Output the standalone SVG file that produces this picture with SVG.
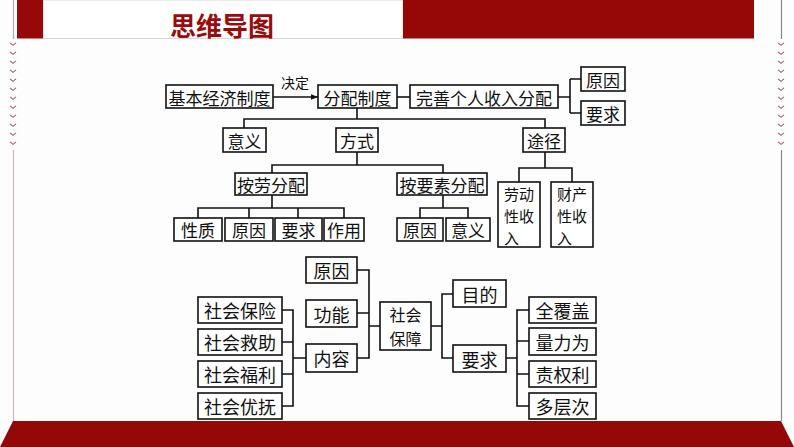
<svg xmlns="http://www.w3.org/2000/svg" width="794" height="447" viewBox="0 0 794 447">
<style>
.b{fill:#fff;stroke:#111;stroke-width:1.6}
.t{font-family:"Noto Sans CJK SC","Noto Sans",sans-serif;font-size:17px;fill:#111;text-anchor:middle;dominant-baseline:central}
.t2{font-size:18px}
.v{font-size:15px;text-anchor:start}
.c{fill:none;stroke:#111;stroke-width:1.6}
.chev{fill:none;stroke:#a0606a;stroke-width:1.1}
</style>
<defs>
<marker id="ar" viewBox="0 0 10 10" refX="10" refY="5" markerWidth="7" markerHeight="7" markerUnits="userSpaceOnUse" orient="auto">
<path d="M0,1 L10,5 L0,9 Z" fill="#111"/>
</marker>
<path id="cv" d="M-3,-1.2 L0,1.3 L3,-1.2" class="chev"/>
</defs>
<rect width="794" height="447" fill="#fdfdfd"/>
<g id="frame">
<rect x="43" y="0" width="360" height="38.5" fill="#fff" stroke="#d8d8d8" stroke-width="1"/>
<rect x="17" y="0" width="26" height="38.5" fill="#970808"/>
<rect x="403" y="0" width="351" height="38.5" fill="#960808"/>
<line x1="13.5" y1="0" x2="13.5" y2="39" stroke="#b8a8a8" stroke-width="1.2"/>
<line x1="781.5" y1="0" x2="781.5" y2="39" stroke="#888" stroke-width="1.2"/>
<g>
<use href="#cv" x="13" y="44"/><use href="#cv" x="13" y="53"/><use href="#cv" x="13" y="62"/><use href="#cv" x="13" y="71"/><use href="#cv" x="13" y="80"/><use href="#cv" x="13" y="89"/><use href="#cv" x="13" y="98"/><use href="#cv" x="13" y="107"/><use href="#cv" x="13" y="116"/><use href="#cv" x="13" y="125"/><use href="#cv" x="13" y="134"/><use href="#cv" x="13" y="143"/>
<use href="#cv" x="781" y="44"/><use href="#cv" x="781" y="53"/><use href="#cv" x="781" y="62"/><use href="#cv" x="781" y="71"/><use href="#cv" x="781" y="80"/><use href="#cv" x="781" y="89"/><use href="#cv" x="781" y="98"/><use href="#cv" x="781" y="107"/><use href="#cv" x="781" y="116"/><use href="#cv" x="781" y="125"/><use href="#cv" x="781" y="134"/><use href="#cv" x="781" y="143"/>
</g>
<line x1="13.5" y1="150" x2="13.5" y2="421" stroke="#c8b8b8" stroke-width="1.2"/>
<line x1="781.5" y1="150" x2="781.5" y2="421" stroke="#888" stroke-width="1.2"/>
<polygon points="13,421 781,421 794,447 0,447" fill="#950808"/>
<text x="222" y="24" font-family="'Noto Sans CJK SC',sans-serif" font-size="26" font-weight="bold" fill="#9b0b0b" text-anchor="middle" dominant-baseline="central">思维导图</text>
</g>
<g id="connectors">
<line x1="273" y1="97" x2="318" y2="97" class="c" marker-end="url(#ar)"/>
<text x="295" y="82" class="t" style="font-size:14px">决定</text>
<line x1="397" y1="97" x2="410" y2="97" class="c"/>
<path d="M558,97 H570 M570,79 V113 M570,79 H581 M570,113 H581" class="c"/>
<path d="M357,108 V119 M244,128 V119 H545 V128" class="c"/>
<path d="M357,152 V165 M272,173 V165 H443 V173" class="c"/>
<path d="M272,195 V208 M198,218 V208 H344 V218 M249,208 V218 M298,208 V218" class="c"/>
<path d="M443,195 V208 M420,218 V208 H468 V218" class="c"/>
<path d="M545,152 V168 M519,182 V168 H572 V182" class="c"/>
<path d="M357,270 H369 V358 H357 M357,313 H369 M369,326 H380" class="c"/>
<path d="M431,326 H442 M453,294 H442 V358 H453" class="c"/>
<path d="M506,358 H517 M529,310 H517 V406 H529 M517,341 H529 M517,374 H529" class="c"/>
<path d="M282,310 H293 V406 H282 M282,342 H293 M282,374 H293 M293,358 H306" class="c"/>
</g>
<g id="n1"><rect x="166" y="85" width="107" height="23" class="b"/><text x="219.5" y="97" class="t">基本经济制度</text></g>
<g id="n2"><rect x="318" y="85" width="79" height="23" class="b"/><text x="357.5" y="97" class="t">分配制度</text></g>
<g id="n3"><rect x="410" y="85" width="148" height="23" class="b"/><text x="484" y="97" class="t">完善个人收入分配</text></g>
<g id="n4"><rect x="581" y="67" width="44" height="24" class="b"/><text x="603" y="79" class="t">原因</text></g>
<g id="n5"><rect x="581" y="101" width="44" height="24" class="b"/><text x="603" y="113" class="t">要求</text></g>
<g id="n6"><rect x="223" y="128" width="43" height="24" class="b"/><text x="244.5" y="140" class="t">意义</text></g>
<g id="n7"><rect x="336" y="128" width="42" height="24" class="b"/><text x="357" y="140" class="t">方式</text></g>
<g id="n8"><rect x="523" y="128" width="42" height="24" class="b"/><text x="544" y="140" class="t">途径</text></g>
<g id="n9"><rect x="235" y="173" width="72" height="22" class="b"/><text x="271" y="184" class="t">按劳分配</text></g>
<g id="n10"><rect x="397" y="173" width="90" height="22" class="b"/><text x="442" y="184" class="t">按要素分配</text></g>
<g id="n11"><rect x="174" y="218" width="48" height="23" class="b"/><text x="198" y="229.5" class="t">性质</text></g>
<g id="n12"><rect x="225" y="218" width="48" height="23" class="b"/><text x="249" y="229.5" class="t">原因</text></g>
<g id="n13"><rect x="275" y="218" width="47" height="23" class="b"/><text x="298.5" y="229.5" class="t">要求</text></g>
<g id="n14"><rect x="324" y="218" width="40" height="23" class="b"/><text x="344" y="229.5" class="t">作用</text></g>
<g id="n15"><rect x="397" y="218" width="46" height="23" class="b"/><text x="420" y="229.5" class="t">原因</text></g>
<g id="n16"><rect x="446" y="218" width="44" height="23" class="b"/><text x="468" y="229.5" class="t">意义</text></g>
<g id="n17"><rect x="498" y="182" width="42" height="65" class="b"/><text x="504" y="193" class="t v">劳动</text><text x="504" y="215" class="t v">性收</text><text x="504" y="237" class="t v">入</text></g>
<g id="n18"><rect x="551" y="182" width="42" height="65" class="b"/><text x="557" y="193" class="t v">财产</text><text x="557" y="215" class="t v">性收</text><text x="557" y="237" class="t v">入</text></g>
<g id="n19"><rect x="306" y="257" width="51" height="26" class="b"/><text x="331.5" y="270" class="t t2">原因</text></g>
<g id="n20"><rect x="306" y="300" width="51" height="27" class="b"/><text x="331.5" y="313.5" class="t t2">功能</text></g>
<g id="n21"><rect x="306" y="344" width="51" height="28" class="b"/><text x="331.5" y="358" class="t t2">内容</text></g>
<g id="n22"><rect x="380" y="302" width="51" height="48" class="b"/><text x="405.5" y="314" class="t" style="font-size:16px">社会</text><text x="405.5" y="338" class="t" style="font-size:16px">保障</text></g>
<g id="n23"><rect x="453" y="280" width="53" height="27" class="b"/><text x="479.5" y="293.5" class="t t2">目的</text></g>
<g id="n24"><rect x="453" y="345" width="53" height="27" class="b"/><text x="479.5" y="358.5" class="t t2">要求</text></g>
<g id="n25"><rect x="529" y="297" width="67" height="26" class="b"/><text x="562.5" y="310" class="t t2">全覆盖</text></g>
<g id="n26"><rect x="529" y="328" width="67" height="27" class="b"/><text x="562.5" y="341.5" class="t t2">量力为</text></g>
<g id="n27"><rect x="529" y="361" width="67" height="26" class="b"/><text x="562.5" y="374" class="t t2">责权利</text></g>
<g id="n28"><rect x="529" y="393" width="67" height="26" class="b"/><text x="562.5" y="406" class="t t2">多层次</text></g>
<g id="n29"><rect x="198" y="297" width="84" height="26" class="b"/><text x="240" y="310" class="t t2">社会保险</text></g>
<g id="n30"><rect x="198" y="329" width="84" height="26" class="b"/><text x="240" y="342" class="t t2">社会救助</text></g>
<g id="n31"><rect x="198" y="361" width="84" height="26" class="b"/><text x="240" y="374" class="t t2">社会福利</text></g>
<g id="n32"><rect x="198" y="393" width="84" height="26" class="b"/><text x="240" y="406" class="t t2">社会优抚</text></g>
</svg>
